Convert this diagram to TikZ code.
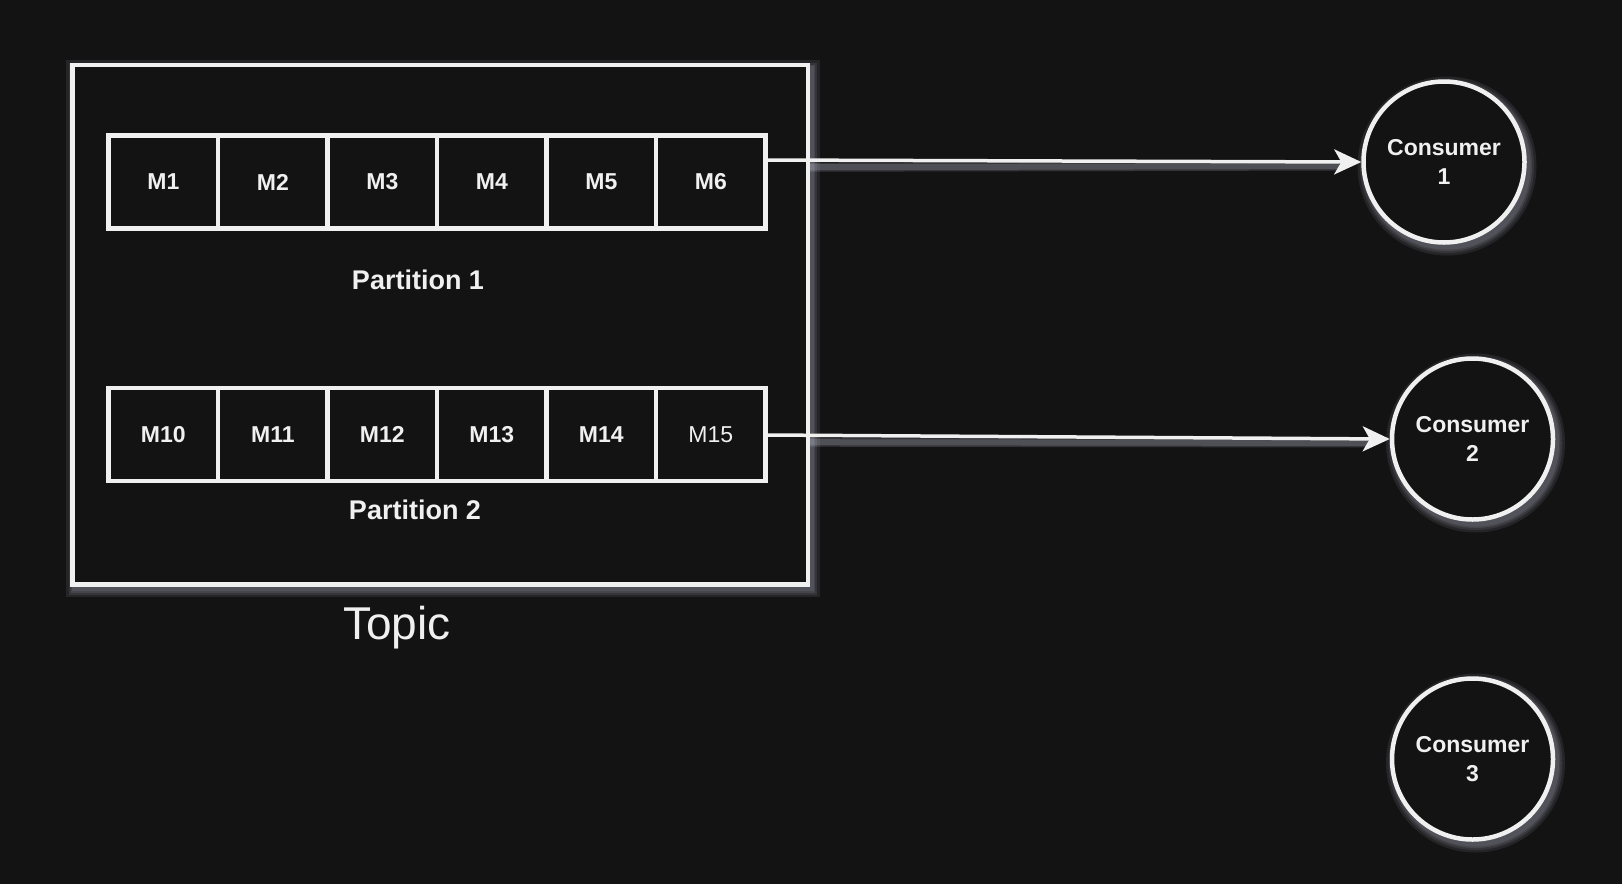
\documentclass[tikz,border=0pt]{standalone}
\usepackage{fontspec}
\setmainfont{Liberation Sans}
\usetikzlibrary{arrows.meta,calc}
\definecolor{bg}{RGB}{19,19,20}
\definecolor{fg}{RGB}{240,240,240}
\definecolor{glow}{RGB}{205,205,225}
\pgfdeclarelayer{glowlayer}
\pgfsetlayers{glowlayer,main}
\tikzset{
  glowring/.style={draw=glow, line width=#1, opacity=0.10},
  topicbox/.style={draw=fg, line width=4.5pt, fill=bg, inner sep=0pt, outer sep=0pt},
  rowbox/.style={draw=fg, line width=4.5pt, inner sep=0pt, outer sep=0pt, minimum width=657pt, minimum height=93pt},
  cell/.style={draw=fg, line width=4.5pt, fill=bg, minimum width=109.5pt, minimum height=93pt, inner sep=0pt, outer sep=0pt, text=fg, font=\fontsize{23}{28}\selectfont\bfseries},
  plabel/.style={text=fg, font=\fontsize{27}{32}\selectfont\bfseries},
  consumer/.style={circle, draw=fg, line width=4.5pt, fill=bg, minimum size=161pt, inner sep=0pt, align=center, text=fg, font=\fontsize{23}{28.5}\selectfont\bfseries},
  flow/.style={draw=fg, line width=3.5pt, -{Stealth[length=27pt,width=25pt,inset=7pt]}},
  flowglow/.style={draw=glow, opacity=0.18, line width=#1, shorten >=22pt}
}
\begin{document}
\begin{tikzpicture}[x=1pt,y=-1pt]
\begin{pgfonlayer}{glowlayer}
\fill[bg] (0,0) rectangle (1622,884);
\end{pgfonlayer}
\useasboundingbox (0,0) rectangle (1622,884);

% Topic container
\node[topicbox, minimum width=735.5pt, minimum height=519.2pt] (topic) at (440.2,324.8) {};
\node[text=fg, font=\fontsize{46}{50}\selectfont] (topiclbl) at (397,628) {Topic};

% Partition 1
\node[rowbox] (p1) at (437.1,182) {};
\foreach \t [count=\i] in {M1,M2,M3,M4,M5,M6} {
  \node[cell] (a\i) at ({108.6+109.5*(\i-0.5)},182) {\t};
}
\node[plabel] (p1lbl) at (418,280) {Partition 1};

% Partition 2
\node[rowbox] (p2) at (437.1,434.5) {};
\foreach \t [count=\i] in {M10,M11,M12,M13,M14} {
  \node[cell] (b\i) at ({108.6+109.5*(\i-0.5)},434.5) {\t};
}
\node[cell, font=\fontsize{23}{28}\selectfont] (b6) at ({108.6+109.5*5.5},434.5) {M15};
\node[plabel] (p2lbl) at (415,510) {Partition 2};

% Consumers
\node[consumer] (c1) at (1444,162) {Consumer\\1};
\node[consumer] (c2) at (1472.5,439) {Consumer\\2};
\node[consumer] (c3) at (1472.5,759) {Consumer\\3};

% Glow (soft shadow) behind the shapes
\begin{pgfonlayer}{glowlayer}
\foreach \w in {18,13,9,6} {
  \draw[glowring=\w pt] ($(topic.north west)+(3,4)$) rectangle ($(topic.south east)+(3,4)$);
  \foreach \c in {c1,c2,c3} {
    \draw[glowring=\w pt] ($(\c.center)+(3,4)$) circle (80.5);
  }
}
\end{pgfonlayer}

% Connectors
\coordinate (s1) at ($(p1.north east)+(0,24.5)$);
\coordinate (s2) at ($(p2.north east)+(0,47)$);
\coordinate (g1) at ($(topic.north east)+(2,98)$);
\coordinate (g2) at ($(topic.north east)+(2,373)$);
\foreach \w in {9,6} {
  \draw[flowglow=\w pt] ($(g1)+(0,4)$) -- ($(c1.west)+(0,4)$);
  \draw[flowglow=\w pt] ($(g2)+(0,4)$) -- ($(c2.west)+(0,4)$);
}
\draw[flow] (s1) -- (c1.west);
\draw[flow] (s2) -- (c2.west);
\end{tikzpicture}
\end{document}
